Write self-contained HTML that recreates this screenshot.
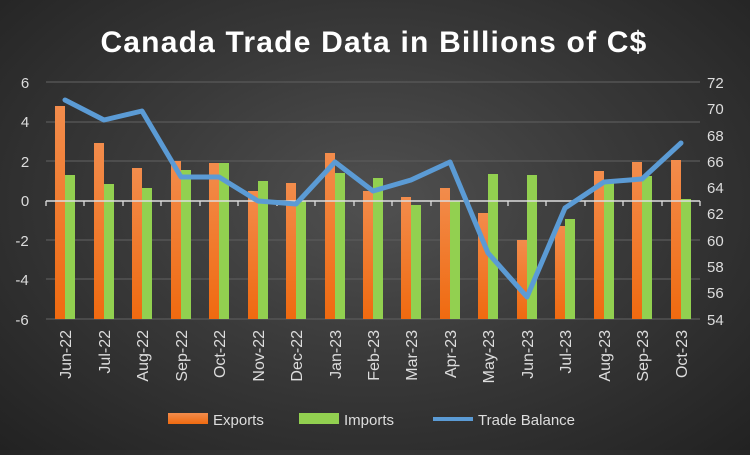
<!DOCTYPE html>
<html><head><meta charset="utf-8"><style>
html,body{margin:0;padding:0}
body{width:750px;height:450px;overflow:hidden;background:radial-gradient(ellipse at 50% 45%,#505050 0%,#3a3a3a 45%,#222 100%);font-family:"Liberation Sans",sans-serif}
</style></head><body>
<svg width="750" height="450" xmlns="http://www.w3.org/2000/svg" font-family="Liberation Sans, sans-serif">
<defs>
<linearGradient id="og" x1="0" y1="0" x2="0" y2="1"><stop offset="0" stop-color="#f28c4c"/><stop offset="1" stop-color="#f06a10"/></linearGradient>
</defs>
<text x="374" y="52" text-anchor="middle" fill="#fff" font-size="30" font-weight="bold" letter-spacing="1.2">Canada Trade Data in Billions of C$</text>
<g stroke="#5a5a5a" stroke-width="1.3">
<line x1="46" x2="700" y1="82" y2="82"/><line x1="46" x2="700" y1="122" y2="122"/><line x1="46" x2="700" y1="161" y2="161"/>
<line x1="46" x2="700" y1="240" y2="240"/><line x1="46" x2="700" y1="279" y2="279"/><line x1="46" x2="700" y1="319" y2="319"/>
</g>
<g fill="#ddd" font-size="15">
<text x="25" y="88" text-anchor="middle">6</text><text x="25" y="127" text-anchor="middle">4</text><text x="25" y="167" text-anchor="middle">2</text><text x="25" y="206" text-anchor="middle">0</text><text x="22" y="246" text-anchor="middle">-2</text><text x="22" y="285" text-anchor="middle">-4</text><text x="22" y="325" text-anchor="middle">-6</text>
<text x="707" y="88">72</text><text x="707" y="114">70</text><text x="707" y="141">68</text><text x="707" y="167">66</text><text x="707" y="193">64</text><text x="707" y="219">62</text><text x="707" y="246">60</text><text x="707" y="272">58</text><text x="707" y="298">56</text><text x="707" y="325">54</text>
</g>
<g fill="url(#og)">
<rect x="55" y="106" width="10" height="213"/>
<rect x="94" y="143" width="10" height="176"/>
<rect x="132" y="168" width="10" height="151"/>
<rect x="171" y="161" width="10" height="158"/>
<rect x="209" y="163" width="10" height="156"/>
<rect x="248" y="191" width="10" height="128"/>
<rect x="286" y="183" width="10" height="136"/>
<rect x="325" y="153" width="10" height="166"/>
<rect x="363" y="191" width="10" height="128"/>
<rect x="401" y="197" width="10" height="122"/>
<rect x="440" y="188" width="10" height="131"/>
<rect x="478" y="213" width="10" height="106"/>
<rect x="517" y="240" width="10" height="79"/>
<rect x="555" y="226" width="10" height="93"/>
<rect x="594" y="171" width="10" height="148"/>
<rect x="632" y="162" width="10" height="157"/>
<rect x="671" y="160" width="10" height="159"/>
</g>
<g fill="#92d050">
<rect x="65" y="175" width="10" height="144"/>
<rect x="104" y="184" width="10" height="135"/>
<rect x="142" y="188" width="10" height="131"/>
<rect x="181" y="170" width="10" height="149"/>
<rect x="219" y="163" width="10" height="156"/>
<rect x="258" y="181" width="10" height="138"/>
<rect x="296" y="201" width="10" height="118"/>
<rect x="335" y="173" width="10" height="146"/>
<rect x="373" y="178" width="10" height="141"/>
<rect x="411" y="205" width="10" height="114"/>
<rect x="450" y="201" width="10" height="118"/>
<rect x="488" y="174" width="10" height="145"/>
<rect x="527" y="175" width="10" height="144"/>
<rect x="565" y="219" width="10" height="100"/>
<rect x="604" y="181" width="10" height="138"/>
<rect x="642" y="176" width="10" height="143"/>
<rect x="681" y="199" width="10" height="120"/>
</g>
<line x1="46" x2="700" y1="201" y2="201" stroke="#ddd" stroke-width="1.5"/>
<path stroke="#ddd" stroke-width="1.3" d="M46 201v5M84 201v5M123 201v5M161 201v5M200 201v5M238 201v5M277 201v5M315 201v5M354 201v5M392 201v5M431 201v5M469 201v5M508 201v5M546 201v5M585 201v5M623 201v5M662 201v5M700 201v5"/>
<polyline fill="none" stroke="#5b9bd5" stroke-width="5" stroke-linejoin="round" stroke-linecap="round" points="65,100 104,120 142,111 181,177 219,177 258,201 296,204 335,162 373,191 411,180 450,162 488,253 527,297 565,208 604,182 642,179 681,143"/>
<g fill="#ddd" font-size="16" text-anchor="end">
<text transform="translate(71,330) rotate(-90)">Jun-22</text>
<text transform="translate(110,330) rotate(-90)">Jul-22</text>
<text transform="translate(148,330) rotate(-90)">Aug-22</text>
<text transform="translate(187,330) rotate(-90)">Sep-22</text>
<text transform="translate(225,330) rotate(-90)">Oct-22</text>
<text transform="translate(264,330) rotate(-90)">Nov-22</text>
<text transform="translate(302,330) rotate(-90)">Dec-22</text>
<text transform="translate(341,330) rotate(-90)">Jan-23</text>
<text transform="translate(379,330) rotate(-90)">Feb-23</text>
<text transform="translate(417,330) rotate(-90)">Mar-23</text>
<text transform="translate(456,330) rotate(-90)">Apr-23</text>
<text transform="translate(494,330) rotate(-90)">May-23</text>
<text transform="translate(533,330) rotate(-90)">Jun-23</text>
<text transform="translate(571,330) rotate(-90)">Jul-23</text>
<text transform="translate(610,330) rotate(-90)">Aug-23</text>
<text transform="translate(648,330) rotate(-90)">Sep-23</text>
<text transform="translate(687,330) rotate(-90)">Oct-23</text>
</g>
<rect x="168" y="413" width="40" height="11" fill="url(#og)"/><text x="213" y="425" fill="#ddd" font-size="15">Exports</text>
<rect x="299" y="413" width="40" height="11" fill="#92d050"/><text x="344" y="425" fill="#ddd" font-size="15">Imports</text>
<line x1="433" x2="473" y1="419" y2="419" stroke="#5b9bd5" stroke-width="4"/><text x="478" y="425" fill="#ddd" font-size="15">Trade Balance</text>
</svg>
</body></html>
